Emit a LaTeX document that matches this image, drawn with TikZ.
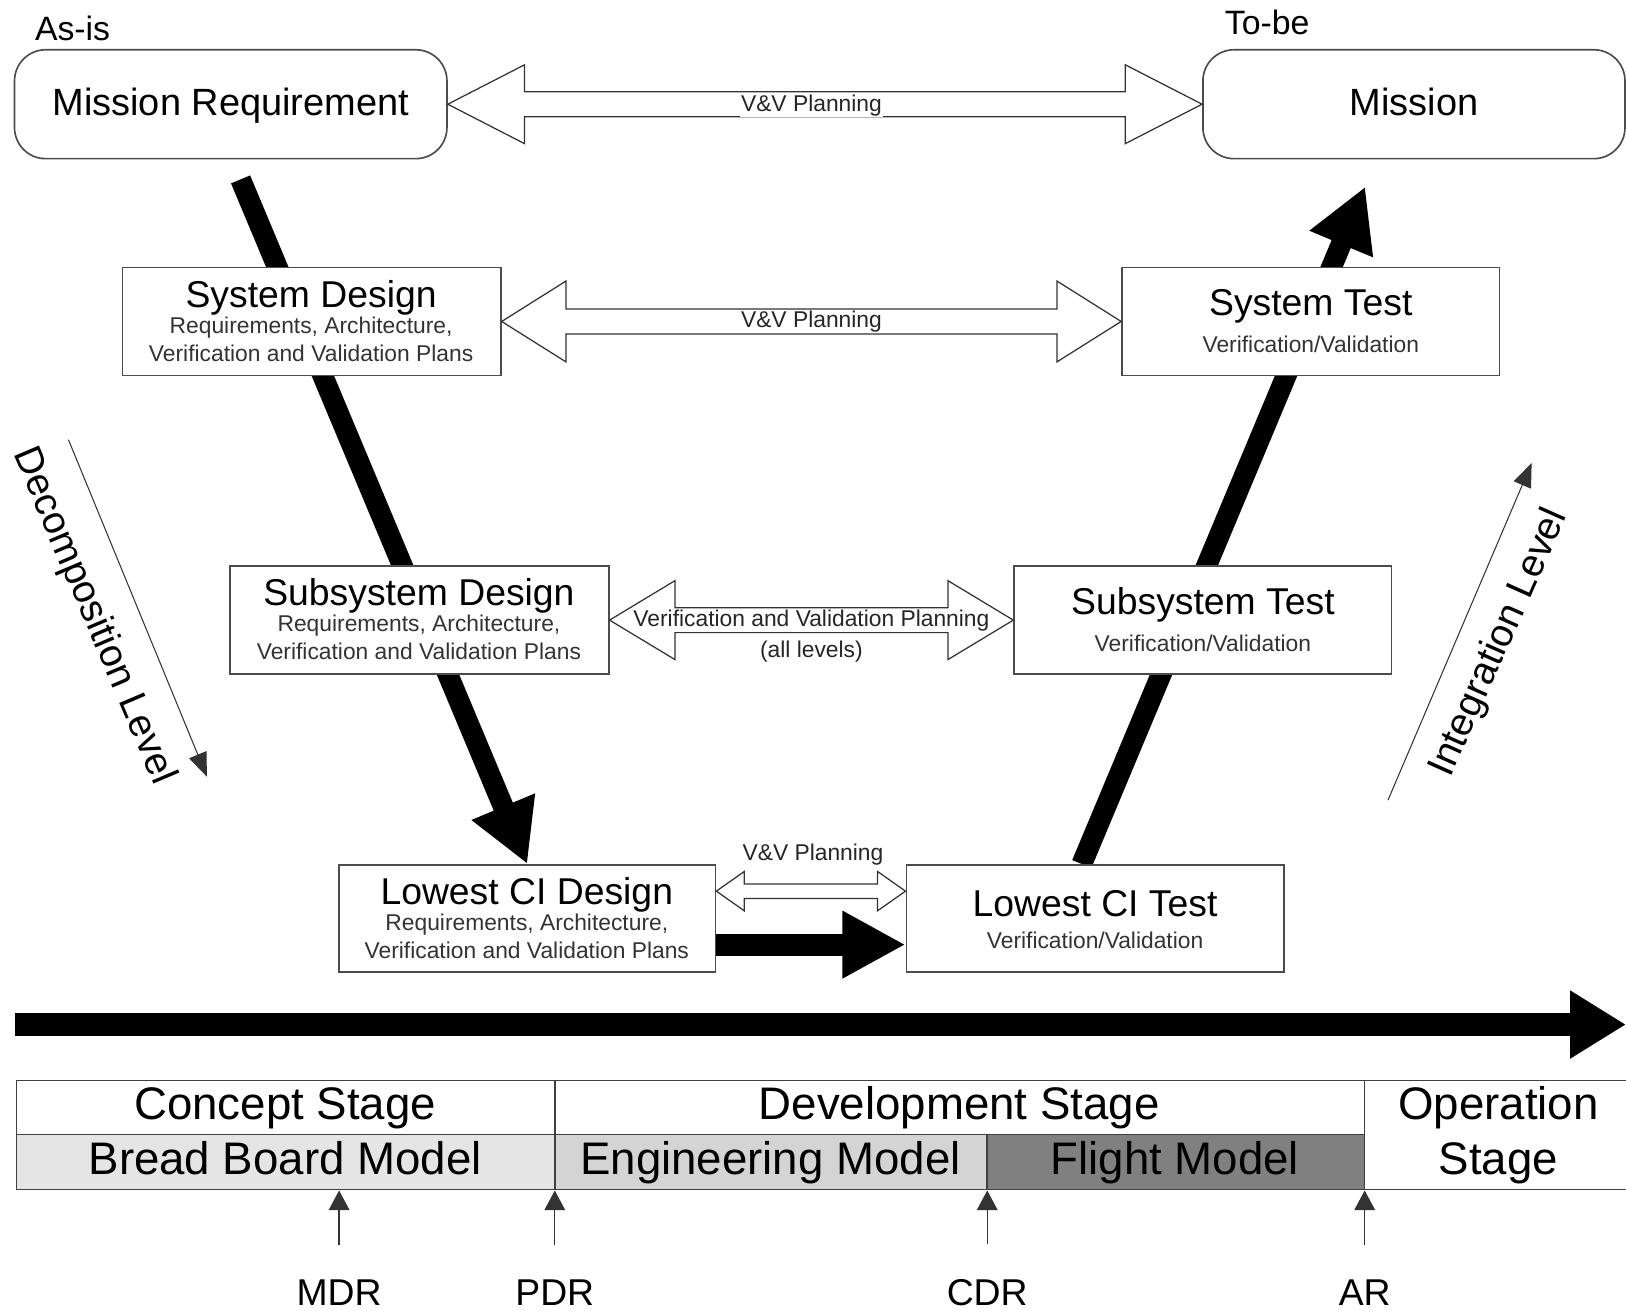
\documentclass[tikz,border=0pt]{standalone}
\usepackage{fontspec}
\setmainfont{Liberation Sans}
\usetikzlibrary{arrows.meta,calc}
\pgfdeclarelayer{back}
\pgfdeclarelayer{bg}
\pgfsetlayers{back,bg,main}
\newcommand{\dblarrow}[5]{%
  \draw[hollow] (#1) -- ++(#3,-#4) -- ++(0,#4-#5) -- ($(#2)+(-#3,-#5)$) -- ++(0,#5-#4) -- (#2)
    -- ++(-#3,#4) -- ++(0,#5-#4) -- ($(#1)+(#3,#5)$) -- ++(0,#4-#5) -- cycle;}
\tikzset{
  box/.style={draw=black!70, line width=0.8pt, fill=white, inner sep=0pt},
  rbox/.style={box, rounded corners=15pt},
  ttl/.style={font=\fontsize{18}{21}\selectfont, inner sep=0pt},
  big/.style={font=\fontsize{18.3}{22}\selectfont, text height=13.4pt, text depth=2.4pt},
  subt/.style={font=\fontsize{11}{13.5}\selectfont, text=black!80, align=center, inner sep=0pt},
  lbl/.style={font=\fontsize{11}{13}\selectfont, text=black!85, inner sep=0.4pt},
  tag/.style={font=\fontsize{16.3}{19}\selectfont, inner sep=0pt},
  tbltxt/.style={font=\fontsize{22}{26}\selectfont, inner sep=0pt, anchor=base},
  mstxt/.style={font=\fontsize{18}{21}\selectfont, inner sep=0pt},
  rot/.style={font=\fontsize{18.8}{22}\selectfont, inner sep=0pt},
  hollow/.style={draw=black!80, line width=0.6pt, fill=white, line join=miter},
  vline/.style={line width=10pt, -{Triangle[length=30pt,width=31pt]}},
  fatarrow/.style={line width=10.5pt, -{Triangle[length=30.5pt,width=30.5pt]}},
  timeline/.style={line width=11pt, -{Triangle[length=27pt,width=31pt]}},
  thinarrow/.style={draw=black!80, line width=0.5pt, -{Triangle[length=11.5pt,width=9pt]}},
  msarrow/.style={draw=black!80, line width=0.6pt, -{Triangle[length=9.5pt,width=10pt]}},
  cell/.style={draw=black!75, line width=0.75pt},
}
\begin{document}
\begin{tikzpicture}[x=0.5pt,y=-0.5pt]
\begin{pgfonlayer}{back}
  \fill[white] (0,0) rectangle (1568,1264);
\end{pgfonlayer}
\useasboundingbox (0,0) rectangle (1568,1264);

% top
\node[tag] (asis) at (70,27) {As-is};
\node[tag] (tobe) at (1222,22) {To-be};
\node[rbox, big, minimum width=208.5pt, minimum height=52.5pt] (mr) at (222.5,100.5) {Mission Requirement};
\node[rbox, big, minimum width=203.5pt, minimum height=52.5pt] (mi) at (1363.5,100.5) {Mission};

% design / test boxes
\node[box, minimum width=182.5pt, minimum height=52pt] (sd) at (300.5,310) {};
\node[ttl] (sdt) at (300,287) {System Design};
\node[subt] (sds) at (300,327) {Requirements, Architecture,\\Verification and Validation Plans};

\node[box, minimum width=182pt, minimum height=52pt] (st) at (1264,310) {};
\node[ttl] (stt) at (1264,295) {System Test};
\node[subt] (sts) at (1264,332) {Verification/Validation};

\node[box, minimum width=182.5pt, minimum height=52pt] (ssd) at (404.5,598) {};
\node[ttl] (ssdt) at (404,575) {Subsystem Design};
\node[subt] (ssds) at (404,615) {Requirements, Architecture,\\Verification and Validation Plans};

\node[box, minimum width=182pt, minimum height=52pt] (sst) at (1160,598) {};
\node[ttl] (sstt) at (1160,583) {Subsystem Test};
\node[subt] (ssts) at (1160,620) {Verification/Validation};

\node[box, minimum width=181.5pt, minimum height=51.5pt] (lcd) at (508.5,885.5) {};
\node[ttl] (lcdt) at (508,863) {Lowest CI Design};
\node[subt] (lcds) at (508,902.5) {Requirements, Architecture,\\Verification and Validation Plans};

\node[box, minimum width=182pt, minimum height=51.5pt] (lct) at (1056,885.5) {};
\node[ttl] (lctt) at (1056,871) {Lowest CI Test};
\node[subt] (lcts) at (1056,907) {Verification/Validation};

% V lines (behind boxes)
\coordinate (vl0) at (232,173);
\coordinate (vr1) at (1316.5,180);
\coordinate (vr0) at ($(lct.north west)!0.465!(lct.north east)$);
\begin{pgfonlayer}{bg}
  \draw[vline] (vl0) -- (lcd.north);
  \draw[vline] (vr0) -- (vr1);
\end{pgfonlayer}

% hollow double arrows
\dblarrow{mr.east}{mi.west}{74}{38}{12}
\node[lbl, fill=white] (a1) at ($(mr.east)!0.5!(mi.west)+(-13,1)$) {V\&V Planning};

\dblarrow{sd.east}{st.west}{62}{39}{12}
\node[lbl, fill=white] (a2) at ($(sd.east)!0.5!(st.west)$) {V\&V Planning};

\dblarrow{ssd.east}{sst.west}{63}{38}{12}
\node[lbl, fill=white] (a3) at ($(ssd.east)!0.5!(sst.west)$) {Verification and Validation Planning};
\node[lbl] (a3b) at ($(ssd.east)!0.5!(sst.west)+(0,30)$) {(all levels)};

\coordinate (s4l) at ($(lcd.north east)!0.25!(lcd.south east)$);
\coordinate (s4r) at ($(lct.north west)!0.25!(lct.south west)$);
\dblarrow{s4l}{s4r}{27}{19}{7}
\node[lbl] (a4) at ($(s4l)!0.5!(s4r)+(2,-35)$) {V\&V Planning};

\coordinate (b4l) at ($(lcd.north east)!0.743!(lcd.south east)$);
\coordinate (b4r) at ($(lct.north west)!0.743!(lct.south west)$);
\draw[fatarrow] (b4l) -- (b4r);

% level arrows
\coordinate (d0) at (66,424);
\coordinate (d1) at (199.5,749);
\draw[thinarrow] (d0) -- (d1);
\node[rot, rotate=-67] (dec) at (90,594) {Decomposition Level};
\coordinate (i0) at (1338.5,771.5);
\coordinate (i1) at (1477,446.5);
\draw[thinarrow] (i0) -- (i1);
\node[rot, rotate=66] (intl) at (1446,620) {Integration Level};

% timeline
\coordinate (t0) at (14,988);
\coordinate (t1) at (1568,988);
\draw[timeline] (t0) -- (t1);

% stage table
\fill[black!10] (16,1094) rectangle (535,1147);
\fill[black!17] (535,1094) rectangle (952,1147);
\fill[black!50] (952,1094) rectangle (1316,1147);
\draw[cell] (1590,1042) -- (16,1042) -- (16,1147) -- (1590,1147);
\draw[cell] (16,1094) -- (1316,1094);
\draw[cell] (535,1042) -- (535,1147);
\draw[cell] (1316,1042) -- (1316,1147);
\draw[cell] (952,1094) -- (952,1147);
\node[tbltxt] (cs) at (275,1080) {Concept Stage};
\node[tbltxt] (ds) at (925,1080) {Development Stage};
\node[tbltxt] (bbm) at (275,1133) {Bread Board Model};
\node[tbltxt] (em) at (743,1133) {Engineering Model};
\node[tbltxt] (fm) at (1133,1133) {Flight Model};
\node[tbltxt] (os1) at (1445,1080) {Operation};
\node[tbltxt] (os2) at (1445,1133) {Stage};

% milestones
\node[mstxt] (mdr) at (327,1247) {MDR};
\node[mstxt] (pdr) at (535,1247) {PDR};
\node[mstxt] (cdr) at (952,1247) {CDR};
\node[mstxt] (ar) at (1316,1247) {AR};
\coordinate (mdrt) at (327,1148);
\coordinate (pdrt) at (535,1148);
\coordinate (cdrt) at (952,1148);
\coordinate (art) at (1316,1148);
\draw[msarrow] ($(mdr.north)+(0,-34)$) -- (mdrt);
\draw[msarrow] ($(pdr.north)+(0,-34)$) -- (pdrt);
\draw[msarrow] ($(cdr.north)+(0,-34)$) -- (cdrt);
\draw[msarrow] ($(ar.north)+(0,-34)$) -- (art);
\end{tikzpicture}
\end{document}
